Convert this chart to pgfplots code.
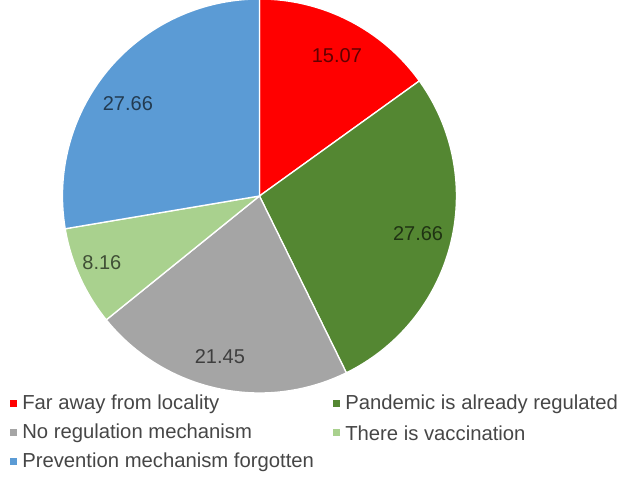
\documentclass[border=0pt]{standalone}
\usepackage{pgfplots}
\usepackage{pgfplotstable}
\usepackage{fontspec}
\setmainfont{Liberation Sans}
\pgfplotsset{compat=1.18}

\definecolor{pred}{RGB}{255,0,0}
\definecolor{pgreen}{RGB}{84,135,50}
\definecolor{pgray}{RGB}{165,165,165}
\definecolor{plgreen}{RGB}{169,209,142}
\definecolor{pblue}{RGB}{91,155,213}
\definecolor{ptext}{RGB}{70,70,70}

% share of answers, clockwise from 12 o'clock
\pgfplotstableread{
value col
15.07 pred
27.66 pgreen
21.45 pgray
8.16  plgreen
27.66 pblue
}\piedata

\begin{document}
\begin{tikzpicture}
\useasboundingbox (0,0) rectangle (468pt,357.75pt);
\begin{axis}[
    hide axis,
    scale only axis,
    width=295.5pt, height=295.5pt,
    xmin=-1, xmax=1, ymin=-1, ymax=1,
    axis equal image,
    clip=false,
    at={(194.6pt,210.75pt)}, anchor=center,
]
    \pgfmathsetmacro{\startang}{90}
    \pgfplotsforeachungrouped \i in {0,...,4}{
        \pgfplotstablegetelem{\i}{col}\of\piedata
        \let\slicecol\pgfplotsretval
        \pgfplotstablegetelem{\i}{value}\of\piedata
        \pgfmathsetmacro{\endang}{\startang-3.6*\pgfplotsretval}
        \edef\tmp{\noexpand\fill[fill=\slicecol, draw=white, line width=1pt]
            (axis cs:0,0) -- (axis cs:{cos(\startang)},{sin(\startang)})
            arc[start angle=\startang, end angle=\endang, radius=1] -- cycle;}
        \tmp
        \global\let\startang\endang
    }
    \begin{scope}[every node/.style={text=black, text opacity=0.62, font=\fontsize{15}{17}\selectfont}]
    \node at (axis cs:0.393,0.711) {15.07};
    \node at (axis cs:0.805,-0.193) {27.66};
    \node at (axis cs:-0.201,-0.817) {21.45};
    \node at (axis cs:-0.800,-0.340) {8.16};
    \node at (axis cs:-0.668,0.467) {27.66};
    \end{scope}
\end{axis}
% legend
\begin{scope}[x=0.75pt, y=-0.75pt, yshift=357.75pt,
    txt/.style={anchor=west, inner sep=0pt, text=ptext, font=\fontsize{15.2}{17}\selectfont}]
    \fill[pred]    (10,400) rectangle (17,407);  \node[txt] at (22,404) {Far away from locality};
    \fill[pgreen]  (333,400) rectangle (340,407); \node[txt] at (345,404) {Pandemic is already regulated};
    \fill[pgray]   (10,429) rectangle (17,436);  \node[txt] at (22,433) {No regulation mechanism};
    \fill[plgreen] (333,429) rectangle (340,436); \node[txt] at (345,433) {There is vaccination};
    \fill[pblue]   (10,458) rectangle (17,465);  \node[txt] at (22,462) {Prevention mechanism forgotten};
\end{scope}
\end{tikzpicture}
\end{document}
